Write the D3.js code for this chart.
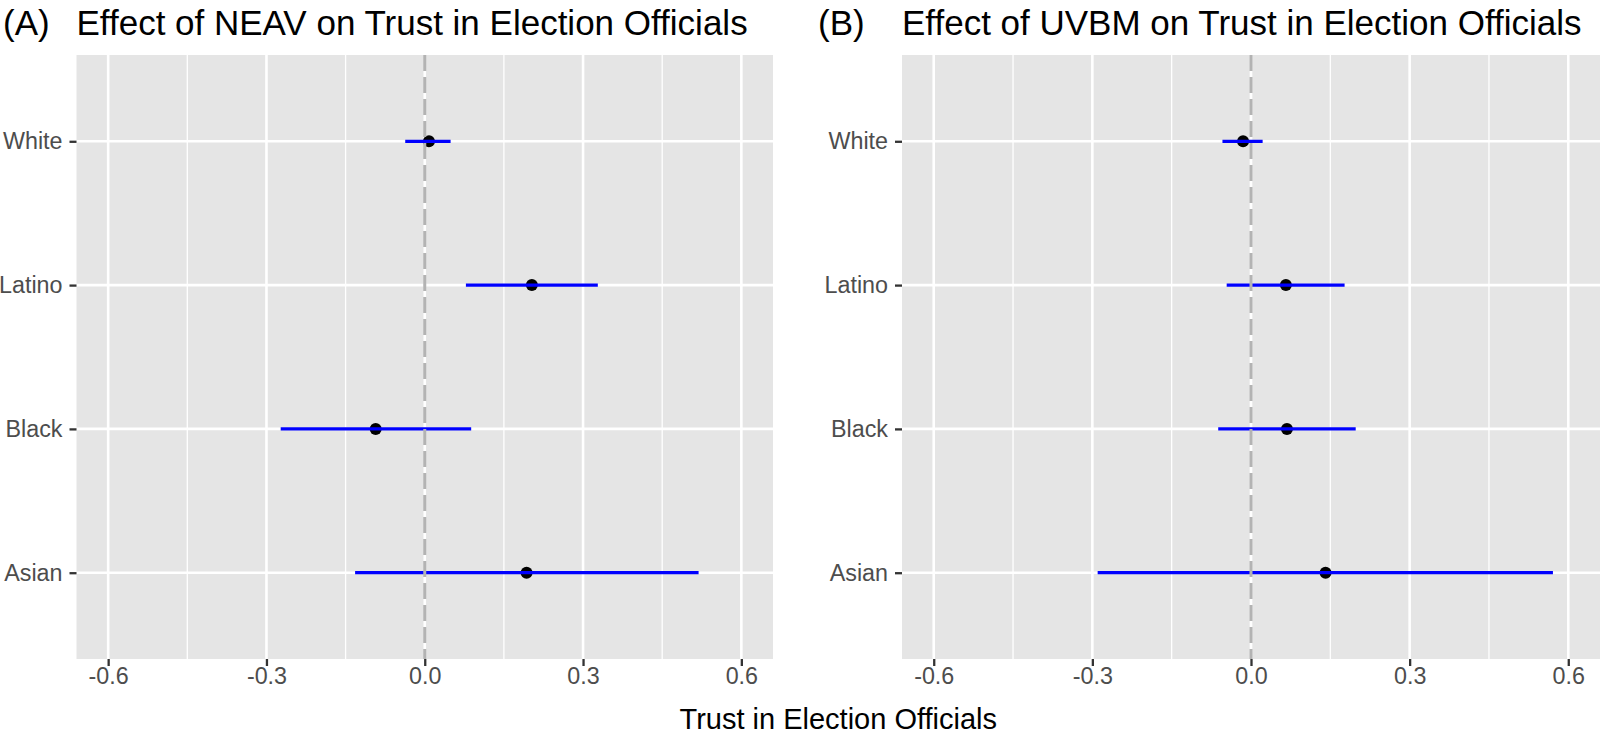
<!DOCTYPE html>
<html>
<head>
<meta charset="utf-8">
<script src="https://cdnjs.cloudflare.com/ajax/libs/d3/7.8.5/d3.min.js"></script>
<style>
  body { margin: 0; background: #fff; }
  svg { display: block; font-family: "Liberation Sans", Arial, Helvetica, sans-serif; }
</style>
</head>
<body>
<div id="canvas"></div>
<script>
// categories, top to bottom
const groups = ["White", "Latino", "Black", "Asian"];

// panel A: NEAV
const neavEst = [0.008, 0.203, -0.093, 0.193];
const neavLo  = [-0.037, 0.078, -0.273, -0.132];
const neavHi  = [0.049, 0.328, 0.088, 0.519];

// panel B: UVBM
const uvbmEst = [-0.015, 0.066, 0.068, 0.141];
const uvbmLo  = [-0.054, -0.046, -0.062, -0.290];
const uvbmHi  = [0.022, 0.177, 0.198, 0.571];

const xTicks = [-0.6, -0.3, 0, 0.3, 0.6];
const xMinor = [-0.45, -0.15, 0.15, 0.45];
const xLimits = [-0.6, 0.6];

const panels = [
    {tag: "(A)", title: "Effect of NEAV on Trust in Election Officials", est: neavEst, lo: neavLo, hi: neavHi},
    {tag: "(B)", title: "Effect of UVBM on Trust in Election Officials", est: uvbmEst, lo: uvbmLo, hi: uvbmHi}
];

var width = 1601, height = 735;
var svg = d3.select("#canvas").append("svg")
    .attr("width", width)
    .attr("height", height);

var plotTop = 55, plotBottom = 659;
var panelLeft = [76.5, 902], panelRight = [773, 1600], tagX = [3, 818];

// ggplot-like 5% expansion
var span = xLimits[1] - xLimits[0];
var xDomain = [xLimits[0] - 0.05 * span, xLimits[1] + 0.05 * span];

panels.forEach((p, k) => {
    var x = d3.scaleLinear().domain(xDomain).range([panelLeft[k], panelRight[k]]);
    var y = d3.scalePoint().domain(groups).range([plotTop, plotBottom]).padding(0.6);
    var rows = groups.map((g, i) => ({group: g, est: p.est[i], lo: p.lo[i], hi: p.hi[i]}));

    var g = svg.append("g");

    g.append("rect")
        .attr("x", panelLeft[k]).attr("y", plotTop)
        .attr("width", panelRight[k] - panelLeft[k]).attr("height", plotBottom - plotTop)
        .attr("fill", "#e5e5e5");

    g.selectAll(".minor").data(xMinor).enter().append("line")
        .attr("x1", d => x(d)).attr("x2", d => x(d))
        .attr("y1", plotTop).attr("y2", plotBottom)
        .attr("stroke", "#fff").attr("stroke-width", 1.3);

    g.selectAll(".majorx").data(xTicks).enter().append("line")
        .attr("x1", d => x(d)).attr("x2", d => x(d))
        .attr("y1", plotTop).attr("y2", plotBottom)
        .attr("stroke", "#fff").attr("stroke-width", 2.6);

    g.selectAll(".majory").data(groups).enter().append("line")
        .attr("x1", panelLeft[k]).attr("x2", panelRight[k])
        .attr("y1", d => y(d)).attr("y2", d => y(d))
        .attr("stroke", "#fff").attr("stroke-width", 2.6);

    g.selectAll(".pt").data(rows).enter().append("circle")
        .attr("cx", d => x(d.est)).attr("cy", d => y(d.group))
        .attr("r", 6).attr("fill", "#000");

    g.selectAll(".bar").data(rows).enter().append("line")
        .attr("x1", d => x(d.lo)).attr("x2", d => x(d.hi))
        .attr("y1", d => y(d.group)).attr("y2", d => y(d.group))
        .attr("stroke", "#0000ff").attr("stroke-width", 3.2);

    g.append("line")
        .attr("x1", x(0)).attr("x2", x(0))
        .attr("y1", plotTop).attr("y2", plotBottom)
        .attr("stroke", "#b3b3b3").attr("stroke-width", 3)
        .attr("stroke-dasharray", "16,6");

    var xAxis = g.append("g")
        .attr("transform", "translate(0," + plotBottom + ")")
        .call(d3.axisBottom(x).tickValues(xTicks).tickFormat(d => d.toFixed(1)).tickSize(7).tickPadding(1));
    var yAxis = g.append("g")
        .attr("transform", "translate(" + panelLeft[k] + ",0)")
        .call(d3.axisLeft(y).tickSize(7).tickPadding(7));

    [xAxis, yAxis].forEach(a => {
        a.select(".domain").remove();
        a.selectAll(".tick line").attr("stroke", "#333").attr("stroke-width", 2.3);
        a.selectAll(".tick text")
            .attr("fill", "#4d4d4d")
            .style("font-size", "23.3px")
            .style("font-family", "'Liberation Sans', Arial, Helvetica, sans-serif");
    });

    svg.append("text")
        .attr("x", tagX[k]).attr("y", 35)
        .style("font-size", "35px")
        .text(p.tag);
    svg.append("text")
        .attr("x", panelLeft[k]).attr("y", 35)
        .style("font-size", "35px")
        .text(p.title);
});

svg.append("text")
    .attr("x", (panelLeft[0] + panelRight[1]) / 2)
    .attr("y", 729)
    .attr("text-anchor", "middle")
    .style("font-size", "29px")
    .text("Trust in Election Officials");
</script>
</body>
</html>
